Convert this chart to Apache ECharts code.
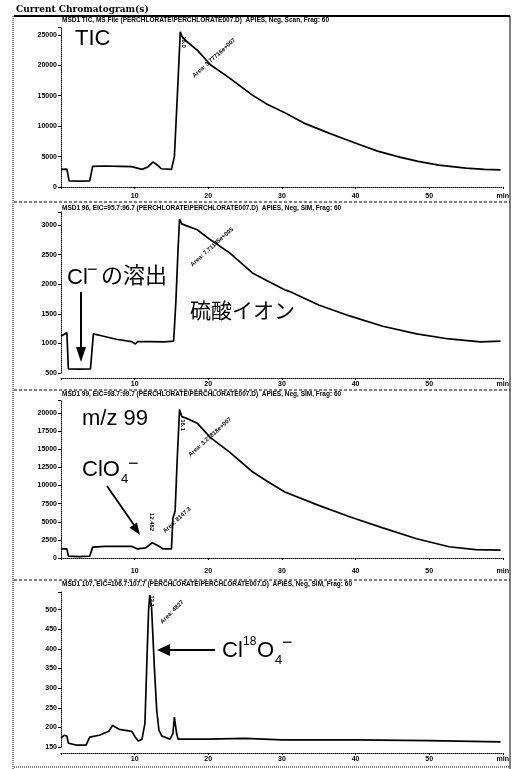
<!DOCTYPE html>
<html>
<head>
<meta charset="utf-8">
<script src="https://cdn.jsdelivr.net/npm/echarts@6/dist/echarts.min.js"></script>
<style>
  html, body { margin: 0; padding: 0; background: #fff; }
  #chart { width: 512px; height: 769px; }
</style>
</head>
<body>
<div id="chart"></div>
<script>
// retention time (min) / abundance
const ticTime = [0, 0.8, 1.1, 2.5, 3.9, 4.3, 6, 8, 9.6, 11, 11.8, 12.5, 13.2, 13.6, 15, 15.4, 15.8, 16.2, 16.4, 17, 18.5, 20.3, 22.9, 26, 28, 30.4, 33, 36.3, 38.5, 40.7, 43, 46, 48.5, 51.3, 55, 57.5, 59.7];
const ticValue = [2900, 2950, 1000, 950, 1000, 3400, 3450, 3400, 3350, 2900, 3300, 4100, 3500, 3000, 2900, 5000, 15000, 25500, 24800, 24000, 22500, 20100, 17900, 15100, 13600, 12200, 10500, 8900, 7900, 6900, 5900, 4900, 4200, 3600, 3100, 2900, 2800];

const mz96Time = [0, 0.8, 1.0, 2.5, 4.0, 4.4, 5.5, 7.5, 9.6, 10.1, 10.4, 12, 14, 15.3, 15.6, 15.9, 16.1, 16.4, 17, 18.5, 20.3, 22.9, 26, 28, 30.5, 31, 35, 39.3, 43.7, 48.3, 52.7, 57, 59.7];
const mz96Value = [1120, 1180, 570, 565, 570, 1160, 1130, 1070, 1030, 990, 1030, 1030, 1025, 1040, 1700, 2600, 3100, 3020, 2990, 2920, 2750, 2530, 2190, 2060, 1900, 1880, 1650, 1460, 1290, 1160, 1075, 1025, 1040];

const mz99Time = [0, 0.8, 1.0, 2.5, 3.9, 4.3, 6, 9.6, 10.4, 11.5, 12.4, 13.2, 13.9, 15.0, 15.2, 15.5, 15.8, 16.1, 16.4, 17, 18.5, 20.3, 22.9, 26, 28, 30.4, 34.9, 39.3, 43.7, 48.3, 52.7, 56.3, 59.7];
const mz99Value = [1250, 1250, 250, 200, 250, 1500, 1600, 1600, 1250, 1400, 2100, 1700, 1250, 1250, 5500, 6500, 14000, 20500, 19500, 19300, 18600, 16600, 14600, 11900, 10600, 9100, 7300, 5650, 4150, 2650, 1550, 1150, 1100];

const mz107Time = [0, 0.4, 0.8, 1.0, 2, 3.4, 3.9, 5.2, 6.5, 7.0, 7.9, 9.6, 10.1, 10.5, 11, 11.4, 11.7, 11.9, 12.05, 12.3, 12.45, 12.7, 13.0, 13.3, 13.7, 14.8, 15.2, 15.4, 15.7, 15.9, 20, 25, 30, 40, 50, 59.7];
const mz107Value = [172, 180, 178, 160, 155, 155, 175, 180, 190, 205, 195, 190, 175, 165, 170, 210, 390, 500, 537, 505, 510, 346, 244, 193, 178, 170, 185, 226, 185, 170, 170, 172, 168, 168, 166, 163];

const xTicks = [10, 20, 30, 40, 50];
const headers = [
    'MSD1 TIC, MS File (PERCHLORATE\\PERCHLORATE007.D)  APIES, Neg, Scan, Frag: 60',
    'MSD1 96, EIC=95.7:96.7 (PERCHLORATE\\PERCHLORATE007.D)  APIES, Neg, SIM, Frag: 60',
    'MSD1 99, EIC=98.7:99.7 (PERCHLORATE\\PERCHLORATE007.D)  APIES, Neg, SIM, Frag: 60',
    'MSD1 107, EIC=106.7:107.7 (PERCHLORATE\\PERCHLORATE007.D)  APIES, Neg, SIM, Frag: 60'
];

function zip(t, v) {
    let out = [];
    for (let i = 0; i < t.length; i++) out.push([t[i], v[i]]);
    return out;
}

const panels = [
    {top: 27, height: 160, min: 0, max: 26300, interval: 5000, offset: 3, data: zip(ticTime, ticValue)},
    {top: 212, height: 161, min: 500, max: 3220, interval: 500, offset: 5, data: zip(mz96Time, mz96Value)},
    {top: 400, height: 158, min: 0, max: 21800, interval: 2500, offset: 7, data: zip(mz99Time, mz99Value)},
    {top: 592, height: 155, min: 150, max: 545, interval: 50, offset: 6, data: zip(mz107Time, mz107Value)}
];

const myChart = echarts.init(document.getElementById('chart'));
const smallFont = {fontFamily: 'Liberation Sans, Arial, sans-serif', fontSize: 7, fontWeight: 'bold', color: '#000'};

let grids = [], xAxes = [], yAxes = [], series = [];
panels.forEach(function (p, i) {
    grids.push({left: 61, width: 449, top: p.top, height: p.height});
    xAxes.push({
        type: 'value', gridIndex: i, min: 0, max: 60, interval: 10, offset: p.offset,
        axisLine: {lineStyle: {color: '#000', type: 'dotted', width: 1}},
        axisTick: {length: 2, lineStyle: {color: '#000'}},
        splitLine: {show: false},
        axisLabel: Object.assign({}, smallFont, {
            margin: 3,
            formatter: function (v) {
                if (v === 60) return 'min';
                return xTicks.indexOf(v) >= 0 ? String(v) : '';
            }
        })
    });
    yAxes.push({
        type: 'value', gridIndex: i, min: p.min, max: p.max, interval: p.interval,
        axisLine: {show: true, lineStyle: {color: '#000', type: 'dotted', width: 1}},
        axisTick: {show: true, length: 3, lineStyle: {color: '#000'}},
        splitLine: {show: false},
        axisLabel: Object.assign({}, smallFont, {
            margin: 4,
            formatter: function (v) {
                return (v - p.min) % p.interval === 0 ? String(v) : '';
            }
        })
    });
    series.push({
        type: 'line', xAxisIndex: i, yAxisIndex: i, data: p.data,
        showSymbol: false, symbol: 'none', animation: false,
        lineStyle: {color: '#000', width: 1.7}
    });
});

function txt(x, y, s, size, extra) {
    return {
        type: 'text', x: x, y: y, z: 20,
        style: Object.assign({
            text: s, fill: '#000', fontSize: size,
            fontFamily: 'Liberation Sans, Arial, Noto Sans CJK JP, sans-serif'
        }, extra || {})
    };
}
function rotTxt(x, y, s, deg) {
    return {
        type: 'text', x: x, y: y, rotation: deg * Math.PI / 180, z: 20,
        style: {text: s, fill: '#000', fontSize: 6, fontWeight: 'bold',
            fontFamily: 'Liberation Sans, Arial, sans-serif', align: 'center', verticalAlign: 'middle'}
    };
}
function line(x1, y1, x2, y2, w, dash) {
    return {
        type: 'line', z: 20, shape: {x1: x1, y1: y1, x2: x2, y2: y2},
        style: {stroke: '#000', lineWidth: w, lineDash: dash || null}
    };
}
function head(pts) {
    return {type: 'polygon', z: 20, shape: {points: pts}, style: {fill: '#000'}};
}

const jp = {fontFamily: 'Noto Sans CJK JP, sans-serif'};
let graphics = [
    txt(16, 5, 'Current Chromatogram(s)', 9, {fontWeight: 'bold', fontFamily: 'DejaVu Serif, serif'}),
    line(14, 16, 510, 16, 2),
    line(13, 16, 13, 769, 1, [1, 1]),
    line(510, 16, 510, 769, 1),
    line(14, 202, 510, 202, 1, [3, 2]),
    line(14, 390, 510, 390, 1, [3, 2]),
    line(14, 580, 510, 580, 1, [3, 2]),
    line(14, 767, 510, 767, 1, [1, 1]),
    // big labels
    txt(75, 28, 'TIC', 22),
    txt(67, 267, 'Cl', 22),
    txt(87, 261, '−', 18),
    txt(101, 264, 'の溶出', 22, jp),
    line(81, 292, 81, 350, 2),
    head([[76, 347], [86, 347], [81, 362]]),
    txt(190, 300, '硫酸イオン', 21, jp),
    txt(82, 408, 'm/z 99', 22),
    txt(82, 459, 'ClO', 22),
    txt(121, 473, '4', 13),
    txt(128, 455, '−', 18),
    line(107, 486, 134, 525, 1.8),
    head([[129.5, 527.7], [136.9, 522.6], [140, 535]]),
    line(215, 650, 168, 650, 2),
    head([[157, 650], [170, 644], [170, 656]]),
    txt(222, 640, 'Cl', 22),
    txt(243, 636, '18', 12),
    txt(257, 640, 'O', 22),
    txt(275, 654, '4', 13),
    txt(282, 634, '−', 18),
    // small peak annotations
    rotTxt(214, 58, 'Area: 3.77716e+007', 42),
    rotTxt(184, 42, '16.0', -90),
    rotTxt(212, 247, 'Area: 7.71145e+005', 42),
    rotTxt(210, 437, 'Area: 3.21818e+007', 42),
    rotTxt(183, 425, '16.1', -90),
    rotTxt(152, 522, '12.462', -90),
    rotTxt(177, 520, 'Area: 8147.3', 42),
    rotTxt(172, 612, 'Area: 4827', 45),
    rotTxt(152, 601, '12.1', -90)
];
headers.forEach(function (h, i) {
    graphics.push(txt(62, [17, 205, 391, 581][i], h, 6.5, {fontWeight: 'bold'}));
});

let option = {
    backgroundColor: '#fff',
    animation: false,
    grid: grids,
    xAxis: xAxes,
    yAxis: yAxes,
    series: series,
    graphic: graphics
};
myChart.setOption(option);
window.addEventListener('resize', function () {
    myChart.resize();
});
</script>
</body>
</html>
